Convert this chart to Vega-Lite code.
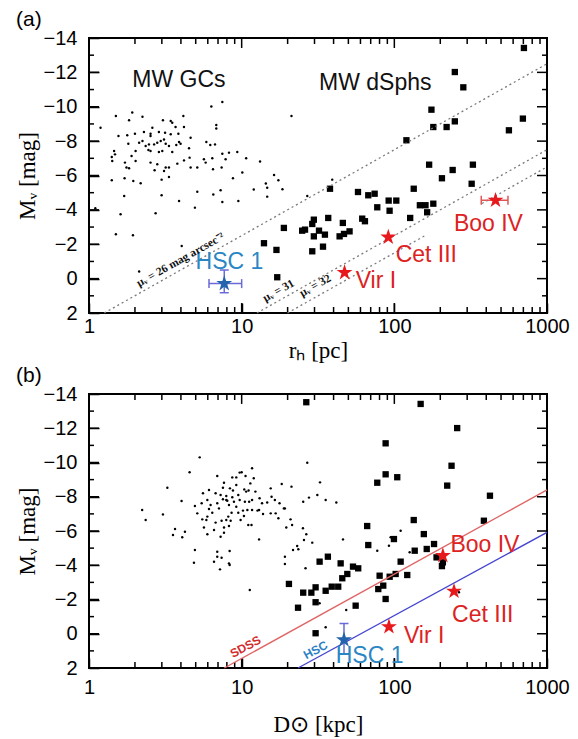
{
"$schema":"https://vega.github.io/schema/vega-lite/v6.json",
"background":"white",
"padding":{"left":15,"top":8,"right":0,"bottom":0},
"spacing":1,
"config":{
 "view":{"stroke":"black","strokeWidth":2},
 "axis":{"domain":false,"grid":false,"ticks":true,"tickColor":"black","tickWidth":1.5,"labelColor":"black","labelFont":"Liberation Sans","labelFontSize":20,"titleColor":"black","titleFont":"Liberation Serif","titleFontSize":23,"titleFontWeight":"normal","labelOverlap":false,"labelFlush":false},
 "title":{"font":"Liberation Sans","fontSize":21,"fontWeight":"normal","color":"black","anchor":"start","frame":"bounds","offset":-2}
},
"datasets":{
 "xmaj":[{"v":1},{"v":10},{"v":100},{"v":1000}],
 "xmin":[{"v":2},{"v":3},{"v":4},{"v":5},{"v":6},{"v":7},{"v":8},{"v":9},{"v":20},{"v":30},{"v":40},{"v":50},{"v":60},{"v":70},{"v":80},{"v":90},{"v":200},{"v":300},{"v":400},{"v":500},{"v":600},{"v":700},{"v":800},{"v":900}],
 "ymaj":[{"v":-14},{"v":-12},{"v":-10},{"v":-8},{"v":-6},{"v":-4},{"v":-2},{"v":0},{"v":2}],
 "ymin":[{"v":-13},{"v":-11},{"v":-9},{"v":-7},{"v":-5},{"v":-3},{"v":-1},{"v":1}],
 "gc_a":[{"x":1.19,"m":-8.78},{"x":1.5,"m":-9.46},{"x":1.92,"m":-9.66},{"x":2.24,"m":-9.42},{"x":1.83,"m":-9.21},{"x":7.47,"m":-10.28},{"x":6.33,"m":-10.01},{"x":4.15,"m":-9.46},{"x":3.43,"m":-9.17},{"x":3.51,"m":-9.07},{"x":3.05,"m":-9.21},{"x":2.6,"m":-8.78},{"x":3.69,"m":-8.82},{"x":4.19,"m":-8.82},{"x":6.82,"m":-8.94},{"x":6.82,"m":-8.73},{"x":21.2,"m":-9.46},{"x":1.56,"m":-8.3},{"x":1.78,"m":-8.34},{"x":1.81,"m":-7.85},{"x":2.0,"m":-8.43},{"x":2.29,"m":-8.53},{"x":2.53,"m":-8.43},{"x":2.53,"m":-8.3},{"x":2.87,"m":-8.53},{"x":3.15,"m":-8.49},{"x":3.43,"m":-8.4},{"x":3.85,"m":-8.43},{"x":4.63,"m":-8.2},{"x":5.87,"m":-7.95},{"x":6.69,"m":-7.81},{"x":6.23,"m":-7.78},{"x":3.89,"m":-7.95},{"x":3.98,"m":-7.85},{"x":4.52,"m":-7.58},{"x":2.13,"m":-7.91},{"x":2.24,"m":-8.01},{"x":2.35,"m":-7.72},{"x":2.47,"m":-7.81},{"x":2.45,"m":-7.48},{"x":2.53,"m":-7.43},{"x":2.67,"m":-7.81},{"x":2.8,"m":-7.91},{"x":2.95,"m":-8.01},{"x":3.1,"m":-8.1},{"x":3.18,"m":-7.85},{"x":3.34,"m":-7.72},{"x":3.51,"m":-7.37},{"x":3.73,"m":-7.78},{"x":2.87,"m":-7.37},{"x":3.02,"m":-7.43},{"x":2.02,"m":-7.43},{"x":1.9,"m":-7.14},{"x":1.46,"m":-7.43},{"x":1.48,"m":-7.23},{"x":1.41,"m":-7.08},{"x":1.42,"m":-6.84},{"x":1.72,"m":-6.75},{"x":2.02,"m":-6.84},{"x":2.53,"m":-6.75},{"x":2.8,"m":-6.65},{"x":3.18,"m":-6.46},{"x":3.1,"m":-6.26},{"x":3.34,"m":-6.46},{"x":2.69,"m":-6.3},{"x":1.76,"m":-6.46},{"x":1.83,"m":-6.42},{"x":3.79,"m":-6.69},{"x":4.19,"m":-6.88},{"x":4.56,"m":-7.04},{"x":4.63,"m":-6.46},{"x":5.12,"m":-6.46},{"x":5.66,"m":-6.94},{"x":5.81,"m":-6.75},{"x":6.42,"m":-7.0},{"x":6.49,"m":-6.36},{"x":7.39,"m":-6.46},{"x":7.47,"m":-7.27},{"x":8.26,"m":-7.33},{"x":9.36,"m":-7.37},{"x":7.85,"m":-6.94},{"x":10.7,"m":-7.0},{"x":13.2,"m":-6.81},{"x":10.1,"m":-6.17},{"x":8.77,"m":-5.84},{"x":1.71,"m":-5.84},{"x":1.41,"m":-5.72},{"x":1.95,"m":-5.68},{"x":2.18,"m":-5.55},{"x":2.99,"m":-5.76},{"x":3.34,"m":-5.91},{"x":12.0,"m":-5.18},{"x":14.4,"m":-5.53},{"x":14.7,"m":-5.29},{"x":16.3,"m":-6.03},{"x":17.4,"m":-5.72},{"x":18.5,"m":-5.2},{"x":5.12,"m":-5.06},{"x":6.52,"m":-4.9},{"x":7.28,"m":-5.14},{"x":1.7,"m":-4.81},{"x":2.99,"m":-4.85},{"x":3.89,"m":-4.52},{"x":7.47,"m":-4.46},{"x":9.51,"m":-4.52},{"x":14.7,"m":-4.77},{"x":26.9,"m":-4.81},{"x":4.94,"m":-4.13},{"x":1.1,"m":-4.09},{"x":1.61,"m":-3.74},{"x":2.73,"m":-3.8},{"x":1.5,"m":-2.58},{"x":1.94,"m":-2.52},{"x":4.05,"m":-1.9},{"x":2.13,"m":-0.41},{"x":39.2,"m":-5.76}],
 "dsph_a":[{"x":706,"m":-13.42},{"x":249,"m":-12.02},{"x":283,"m":-11.13},{"x":175,"m":-9.83},{"x":180,"m":-8.82},{"x":220,"m":-8.82},{"x":249,"m":-9.15},{"x":120,"m":-8.05},{"x":695,"m":-9.31},{"x":563,"m":-8.63},{"x":169,"m":-6.63},{"x":327,"m":-6.63},{"x":241,"m":-6.32},{"x":205,"m":-5.84},{"x":321,"m":-5.52},{"x":37.9,"m":-5.23},{"x":57.8,"m":-5.04},{"x":67.5,"m":-4.85},{"x":74.3,"m":-4.94},{"x":91.8,"m":-4.54},{"x":103,"m":-4.54},{"x":134,"m":-5.23},{"x":77.3,"m":-4.15},{"x":93.1,"m":-3.95},{"x":147,"m":-4.27},{"x":160,"m":-4.27},{"x":180,"m":-4.36},{"x":164,"m":-3.86},{"x":127,"m":-3.53},{"x":61.6,"m":-3.49},{"x":64.2,"m":-3.34},{"x":18.9,"m":-2.95},{"x":36.9,"m":-3.53},{"x":29.7,"m":-3.43},{"x":24.9,"m":-2.79},{"x":26.0,"m":-2.85},{"x":29.0,"m":-3.18},{"x":32.1,"m":-2.79},{"x":29.7,"m":-2.46},{"x":35.1,"m":-2.56},{"x":46.0,"m":-3.24},{"x":46.8,"m":-2.6},{"x":50.9,"m":-2.75},{"x":43.8,"m":-2.46},{"x":29.0,"m":-1.59},{"x":34.1,"m":-1.86},{"x":16.9,"m":-1.67},{"x":14.0,"m":-2.06},{"x":17.1,"m":-0.08}],
 "lines_a":[{"id":"mu26","x":1.259,"m":2},{"id":"mu26","x":1000,"m":-12.5},{"id":"mu31","x":12.59,"m":2},{"id":"mu31","x":1000,"m":-7.5},{"id":"mu32a","x":19.95,"m":2},{"id":"mu32a","x":161,"m":-2.53},{"id":"mu32b","x":375,"m":-4.37},{"id":"mu32b","x":1000,"m":-6.5}],
 "err_a":[{"x":6.11,"x2":10.0,"m":0.29,"m2":0.29,"k":"err_hsc"},{"x":7.69,"x2":7.69,"m":-0.5,"m2":0.82,"k":"err_hsc"},{"x":371,"x2":555,"m":-4.56,"m2":-4.56,"k":"err_new"}],
 "capv_a":[{"x":6.11,"m":0.29,"k":"err_hsc"},{"x":10.0,"m":0.29,"k":"err_hsc"},{"x":371,"m":-4.56,"k":"err_new"},{"x":555,"m":-4.56,"k":"err_new"}],
 "caph_a":[{"x":7.69,"m":-0.5,"k":"err_hsc"},{"x":7.69,"m":0.82,"k":"err_hsc"}],
 "stars_a":[{"x":47.2,"m":-0.35,"k":"star_new"},{"x":91.3,"m":-2.41,"k":"star_new"},{"x":460,"m":-4.56,"k":"star_new"},{"x":7.69,"m":0.29,"k":"star_hsc"}],
 "labels_a":[{"x":4.99,"m":-0.99,"t":"HSC 1","k":"lbl_hsc"},{"x":55.8,"m":0.15,"t":"Vir I","k":"lbl_new"},{"x":102,"m":-1.4,"t":"Cet III","k":"lbl_new"},{"x":245.6,"m":-3.2,"t":"Boo IV","k":"lbl_new"},{"x":1.92,"m":-11.56,"t":"MW GCs","k":"lbl_black"},{"x":32.1,"m":-11.4,"t":"MW dSphs","k":"lbl_black"}],
 "mu_a":[{"x":3.99,"m":-1.07,"t":"μᵥ = 26 mag arcsec⁻²"},{"x":17.5,"m":0.72,"t":"μᵥ = 31"},{"x":30.5,"m":0.43,"t":"μᵥ = 32"}],
 "gc_b":[{"x":5.31,"m":-10.3},{"x":4.56,"m":-9.43},{"x":3.26,"m":-8.53},{"x":4.04,"m":-7.75},{"x":3.05,"m":-6.97},{"x":3.66,"m":-6.12},{"x":3.55,"m":-5.77},{"x":4.08,"m":-5.63},{"x":4.25,"m":-5.96},{"x":4.94,"m":-4.89},{"x":4.87,"m":-4.15},{"x":6.92,"m":-9.21},{"x":7.66,"m":-8.82},{"x":8.68,"m":-9.13},{"x":9.22,"m":-9.13},{"x":9.7,"m":-9.41},{"x":10.0,"m":-9.43},{"x":10.6,"m":-9.21},{"x":11.7,"m":-9.66},{"x":12.0,"m":-9.08},{"x":11.4,"m":-8.78},{"x":10.4,"m":-8.43},{"x":10.7,"m":-8.3},{"x":11.1,"m":-8.36},{"x":12.3,"m":-8.3},{"x":9.22,"m":-8.69},{"x":8.38,"m":-8.49},{"x":7.54,"m":-8.53},{"x":6.75,"m":-8.2},{"x":6.11,"m":-8.39},{"x":5.58,"m":-8.2},{"x":4.94,"m":-7.46},{"x":5.47,"m":-7.62},{"x":5.96,"m":-7.81},{"x":6.26,"m":-7.52},{"x":6.11,"m":-7.29},{"x":6.42,"m":-7.07},{"x":6.92,"m":-7.62},{"x":7.1,"m":-7.32},{"x":7.54,"m":-7.85},{"x":7.93,"m":-7.81},{"x":8.26,"m":-7.52},{"x":7.93,"m":-8.04},{"x":8.68,"m":-7.97},{"x":9.5,"m":-8.1},{"x":9.7,"m":-7.81},{"x":10.5,"m":-7.71},{"x":11.2,"m":-7.71},{"x":11.7,"m":-7.81},{"x":13.1,"m":-7.91},{"x":13.6,"m":-7.62},{"x":14.7,"m":-7.66},{"x":15.7,"m":-8.0},{"x":16.5,"m":-7.81},{"x":17.7,"m":-7.62},{"x":18.9,"m":-7.32},{"x":15.5,"m":-7.03},{"x":16.7,"m":-7.03},{"x":17.4,"m":-6.74},{"x":13.8,"m":-6.99},{"x":12.7,"m":-7.19},{"x":11.7,"m":-7.23},{"x":10.9,"m":-7.23},{"x":10.2,"m":-7.19},{"x":9.5,"m":-7.07},{"x":9.22,"m":-7.42},{"x":8.59,"m":-7.07},{"x":8.17,"m":-6.84},{"x":7.93,"m":-6.64},{"x":8.47,"m":-6.6},{"x":8.26,"m":-6.29},{"x":7.66,"m":-6.21},{"x":7.39,"m":-6.6},{"x":6.75,"m":-6.49},{"x":5.96,"m":-6.84},{"x":5.87,"m":-6.64},{"x":5.52,"m":-6.68},{"x":5.12,"m":-7.03},{"x":5.66,"m":-6.21},{"x":9.84,"m":-6.64},{"x":10.35,"m":-6.88},{"x":11.05,"m":-6.35},{"x":11.6,"m":-6.35},{"x":7.66,"m":-5.9},{"x":6.59,"m":-6.06},{"x":5.96,"m":-5.81},{"x":7.28,"m":-5.67},{"x":13.0,"m":-5.51},{"x":13.0,"m":-7.23},{"x":6.92,"m":-4.79},{"x":8.34,"m":-4.83},{"x":6.92,"m":-4.5},{"x":7.39,"m":-4.44},{"x":6.59,"m":-4.21},{"x":8.26,"m":-4.11},{"x":8.34,"m":-4.01},{"x":7.21,"m":-3.76},{"x":8.05,"m":-7.77},{"x":8.77,"m":-8.36},{"x":8.9,"m":-7.71},{"x":7.28,"m":-8.1},{"x":15.5,"m":-8.49},{"x":18.3,"m":-8.74},{"x":21.2,"m":-8.59},{"x":26.9,"m":-9.99},{"x":32.6,"m":-8.84},{"x":31.3,"m":-8.1},{"x":27.6,"m":-7.95},{"x":35.5,"m":-7.81},{"x":41.7,"m":-7.67},{"x":25.3,"m":-7.71},{"x":19.2,"m":-7.32},{"x":20.9,"m":-6.68},{"x":21.4,"m":-6.35},{"x":19.6,"m":-6.21},{"x":25.2,"m":-6.16},{"x":26.5,"m":-5.81},{"x":25.6,"m":-5.47},{"x":29.0,"m":-5.32},{"x":23.1,"m":-5.12},{"x":23.5,"m":-4.93},{"x":21.7,"m":-4.89},{"x":19.2,"m":-4.5},{"x":19.2,"m":-4.07},{"x":26.2,"m":-3.82},{"x":46.1,"m":-5.51},{"x":11.3,"m":-2.56},{"x":2.23,"m":-7.23},{"x":2.35,"m":-6.64},{"x":110,"m":-6.02},{"x":126,"m":-4.76},{"x":77.3,"m":-4.85},{"x":92.2,"m":-5.14},{"x":94.6,"m":-5.63},{"x":48.4,"m":-1.39},{"x":35.5,"m":-0.38},{"x":32.4,"m":-1.78},{"x":265,"m":-2.42}],
 "dsph_b":[{"x":20.4,"m":-2.91},{"x":23.4,"m":-1.52},{"x":25.3,"m":-2.4},{"x":28.6,"m":-2.4},{"x":30.5,"m":-1.84},{"x":30.5,"m":-2.71},{"x":35.5,"m":-2.51},{"x":38.9,"m":-2.75},{"x":42.9,"m":-2.75},{"x":32.4,"m":-4.21},{"x":36.7,"m":-4.5},{"x":44.5,"m":-4.11},{"x":53.6,"m":-3.92},{"x":58.0,"m":-3.82},{"x":49.2,"m":-3.49},{"x":45.6,"m":-3.24},{"x":55.8,"m":-1.64},{"x":30.5,"m":-0.03},{"x":66.4,"m":-6.29},{"x":67.5,"m":-5.18},{"x":77.3,"m":-8.82},{"x":87.7,"m":-9.31},{"x":87.7,"m":-11.12},{"x":104.5,"m":-9.14},{"x":26.5,"m":-13.52},{"x":148.7,"m":-13.42},{"x":258,"m":-12.01},{"x":237,"m":-9.81},{"x":222,"m":-8.65},{"x":423,"m":-8.06},{"x":386,"m":-6.6},{"x":134,"m":-6.64},{"x":156,"m":-5.82},{"x":182,"m":-5.24},{"x":163,"m":-4.95},{"x":136,"m":-4.85},{"x":189,"m":-4.46},{"x":208,"m":-4.17},{"x":205,"m":-3.95},{"x":99.4,"m":-5.53},{"x":110,"m":-4.21},{"x":121.5,"m":-3.43},{"x":102,"m":-3.49},{"x":93.2,"m":-3.33},{"x":80.1,"m":-3.39},{"x":84.6,"m":-2.81},{"x":78.5,"m":-2.61},{"x":87.7,"m":-2.03}],
 "lines_b":[{"id":"sdss","x":7.7,"m":2,"k":"line_sdss"},{"id":"sdss","x":1000,"m":-8.4,"k":"line_sdss"},{"id":"hsc","x":23.4,"m":2,"k":"line_hsc"},{"id":"hsc","x":1000,"m":-5.92,"k":"line_hsc"}],
 "err_b":[{"x":46.8,"x2":46.8,"m":-0.6,"m2":1.2,"k":"err_hsc"}],
 "caph_b":[{"x":46.8,"m":-0.6,"k":"err_hsc"}],
 "stars_b":[{"x":208,"m":-4.56,"k":"star_new"},{"x":246,"m":-2.48,"k":"star_new"},{"x":92.2,"m":-0.41,"k":"star_new"},{"x":46.8,"m":0.36,"k":"star_hsc"}],
 "labels_b":[{"x":233,"m":-5.2,"t":"Boo IV","k":"lbl_new"},{"x":239,"m":-1.11,"t":"Cet III","k":"lbl_new"},{"x":115.6,"m":0.11,"t":"Vir I","k":"lbl_new"},{"x":41.3,"m":1.32,"t":"HSC 1","k":"lbl_hsc"}],
 "linelbl_b":[{"x":10.6,"m":0.76,"t":"SDSS","k":"lbl_sdss"},{"x":30.5,"m":0.95,"t":"HSC","k":"lbl_hsc2"}]
},
"vconcat":[
 {
  "title":{"text":"(a)"},
  "width":458,"height":275,
  "resolve":{"axis":{"x":"independent","y":"independent"}},
  "layer":[
   {"data":{"name":"gc_a"},"mark":{"type":"circle","size":6,"color":"black","opacity":1},
    "encoding":{
     "x":{"field":"x","type":"quantitative","scale":{"type":"log","domain":[1,1000],"nice":false},
      "axis":{"orient":"bottom","values":[1,10,100,1000],"labelExpr":"format(datum.value,'d')","tickSize":10,"offset":-10,"labelPadding":3,"title":"rₕ [pc]","titlePadding":3}},
     "y":{"field":"m","type":"quantitative","scale":{"domain":[-14,2],"reverse":true,"nice":false,"zero":false},
      "axis":{"orient":"left","values":[-14,-12,-10,-8,-6,-4,-2,0,2],"labelExpr":"format(datum.value,'d')","tickSize":10,"offset":-10,"labelPadding":12,"title":"Mᵥ [mag]","titlePadding":4}}}},
   {"data":{"name":"xmaj"},"mark":{"type":"rule","strokeWidth":1.5,"color":"black","opacity":1},
    "encoding":{"x":{"field":"v","type":"quantitative","axis":null},"y":{"datum":2,"type":"quantitative","axis":null},"y2":{"datum":1.42}}},
   {"data":{"name":"xmaj"},"mark":{"type":"rule","strokeWidth":1.5,"color":"black","opacity":1},
    "encoding":{"x":{"field":"v","type":"quantitative","axis":null},"y":{"datum":-14,"type":"quantitative","axis":null},"y2":{"datum":-13.42}}},
   {"data":{"name":"xmin"},"mark":{"type":"rule","strokeWidth":1.5,"color":"black","opacity":1},
    "encoding":{"x":{"field":"v","type":"quantitative","axis":null},"y":{"datum":2,"type":"quantitative","axis":null},"y2":{"datum":1.65}}},
   {"data":{"name":"xmin"},"mark":{"type":"rule","strokeWidth":1.5,"color":"black","opacity":1},
    "encoding":{"x":{"field":"v","type":"quantitative","axis":null},"y":{"datum":-14,"type":"quantitative","axis":null},"y2":{"datum":-13.65}}},
   {"data":{"name":"ymaj"},"mark":{"type":"rule","strokeWidth":1.5,"color":"black","opacity":1},
    "encoding":{"y":{"field":"v","type":"quantitative","axis":null},"x":{"datum":1,"type":"quantitative","axis":null},"x2":{"datum":1.163}}},
   {"data":{"name":"ymaj"},"mark":{"type":"rule","strokeWidth":1.5,"color":"black","opacity":1},
    "encoding":{"y":{"field":"v","type":"quantitative","axis":null},"x":{"datum":1000,"type":"quantitative","axis":null},"x2":{"datum":860}}},
   {"data":{"name":"ymin"},"mark":{"type":"rule","strokeWidth":1.5,"color":"black","opacity":1},
    "encoding":{"y":{"field":"v","type":"quantitative","axis":null},"x":{"datum":1,"type":"quantitative","axis":null},"x2":{"datum":1.078}}},
   {"data":{"name":"ymin"},"mark":{"type":"rule","strokeWidth":1.5,"color":"black","opacity":1},
    "encoding":{"y":{"field":"v","type":"quantitative","axis":null},"x":{"datum":1000,"type":"quantitative","axis":null},"x2":{"datum":927.6}}},
   {"data":{"name":"dsph_a"},"mark":{"type":"square","size":40,"color":"black","opacity":1},
    "encoding":{"x":{"field":"x","type":"quantitative","axis":null},"y":{"field":"m","type":"quantitative","axis":null}}},
   {"data":{"name":"lines_a"},"mark":{"type":"line","color":"#7a7a7a","strokeWidth":1.3,"strokeDash":[2,3]},
    "encoding":{"x":{"field":"x","type":"quantitative","axis":null},"y":{"field":"m","type":"quantitative","axis":null},"detail":{"field":"id"}}},
   {"data":{"name":"err_a"},"mark":{"type":"rule","strokeWidth":1.5},
    "encoding":{"x":{"field":"x","type":"quantitative","axis":null},"x2":{"field":"x2"},"y":{"field":"m","type":"quantitative","axis":null},"y2":{"field":"m2"},
     "color":{"field":"k","type":"nominal","legend":null,"scale":{"domain":["star_new","star_hsc","err_new","err_hsc","lbl_new","lbl_hsc","lbl_black","line_sdss","line_hsc","lbl_sdss","lbl_hsc2"],"range":["#e8191c","#2464ad","#e05555","#6a6ad8","#dd2222","#2b86c4","#111111","#e06666","#4545d0","#d42a2a","#2b7fc4"]}}}},
   {"data":{"name":"capv_a"},"mark":{"type":"tick","orient":"vertical","size":9,"thickness":1.5,"opacity":1},
    "encoding":{"x":{"field":"x","type":"quantitative","axis":null},"y":{"field":"m","type":"quantitative","axis":null},"color":{"field":"k","type":"nominal","legend":null}}},
   {"data":{"name":"caph_a"},"mark":{"type":"tick","orient":"horizontal","size":9,"thickness":1.5,"opacity":1},
    "encoding":{"x":{"field":"x","type":"quantitative","axis":null},"y":{"field":"m","type":"quantitative","axis":null},"color":{"field":"k","type":"nominal","legend":null}}},
   {"data":{"name":"stars_a"},"mark":{"type":"point","filled":true,"opacity":1,"size":280,"shape":"M0,-1L0.2245,-0.309L0.9511,-0.309L0.3633,0.118L0.5878,0.809L0,0.382L-0.5878,0.809L-0.3633,0.118L-0.9511,-0.309L-0.2245,-0.309Z"},
    "encoding":{"x":{"field":"x","type":"quantitative","axis":null},"y":{"field":"m","type":"quantitative","axis":null},"color":{"field":"k","type":"nominal","legend":null}}},
   {"data":{"name":"labels_a"},"mark":{"type":"text","align":"left","baseline":"middle","font":"Liberation Sans","fontSize":23},
    "encoding":{"x":{"field":"x","type":"quantitative","axis":null},"y":{"field":"m","type":"quantitative","axis":null},"text":{"field":"t"},"color":{"field":"k","type":"nominal","legend":null}}},
   {"data":{"name":"mu_a"},"mark":{"type":"text","align":"center","baseline":"middle","font":"Liberation Serif","fontWeight":"bold","fontSize":11.5,"angle":-29.4,"color":"#111111"},
    "encoding":{"x":{"field":"x","type":"quantitative","axis":null},"y":{"field":"m","type":"quantitative","axis":null},"text":{"field":"t"}}}
  ]
 },
 {
  "title":{"text":"(b)"},
  "width":458,"height":274,
  "resolve":{"axis":{"x":"independent","y":"independent"}},
  "layer":[
   {"data":{"name":"gc_b"},"mark":{"type":"circle","size":6,"color":"black","opacity":1},
    "encoding":{
     "x":{"field":"x","type":"quantitative","scale":{"type":"log","domain":[1,1000],"nice":false},
      "axis":{"orient":"bottom","values":[1,10,100,1000],"labelExpr":"format(datum.value,'d')","tickSize":10,"offset":-10,"labelPadding":9,"title":"D⊙ [kpc]","titlePadding":16}},
     "y":{"field":"m","type":"quantitative","scale":{"domain":[-14,2],"reverse":true,"nice":false,"zero":false},
      "axis":{"orient":"left","values":[-14,-12,-10,-8,-6,-4,-2,0,2],"labelExpr":"format(datum.value,'d')","tickSize":10,"offset":-10,"labelPadding":12,"title":"Mᵥ [mag]","titlePadding":4}}}},
   {"data":{"name":"xmaj"},"mark":{"type":"rule","strokeWidth":1.5,"color":"black","opacity":1},
    "encoding":{"x":{"field":"v","type":"quantitative","axis":null},"y":{"datum":2,"type":"quantitative","axis":null},"y2":{"datum":1.42}}},
   {"data":{"name":"xmaj"},"mark":{"type":"rule","strokeWidth":1.5,"color":"black","opacity":1},
    "encoding":{"x":{"field":"v","type":"quantitative","axis":null},"y":{"datum":-14,"type":"quantitative","axis":null},"y2":{"datum":-13.42}}},
   {"data":{"name":"xmin"},"mark":{"type":"rule","strokeWidth":1.5,"color":"black","opacity":1},
    "encoding":{"x":{"field":"v","type":"quantitative","axis":null},"y":{"datum":2,"type":"quantitative","axis":null},"y2":{"datum":1.65}}},
   {"data":{"name":"xmin"},"mark":{"type":"rule","strokeWidth":1.5,"color":"black","opacity":1},
    "encoding":{"x":{"field":"v","type":"quantitative","axis":null},"y":{"datum":-14,"type":"quantitative","axis":null},"y2":{"datum":-13.65}}},
   {"data":{"name":"ymaj"},"mark":{"type":"rule","strokeWidth":1.5,"color":"black","opacity":1},
    "encoding":{"y":{"field":"v","type":"quantitative","axis":null},"x":{"datum":1,"type":"quantitative","axis":null},"x2":{"datum":1.163}}},
   {"data":{"name":"ymaj"},"mark":{"type":"rule","strokeWidth":1.5,"color":"black","opacity":1},
    "encoding":{"y":{"field":"v","type":"quantitative","axis":null},"x":{"datum":1000,"type":"quantitative","axis":null},"x2":{"datum":860}}},
   {"data":{"name":"ymin"},"mark":{"type":"rule","strokeWidth":1.5,"color":"black","opacity":1},
    "encoding":{"y":{"field":"v","type":"quantitative","axis":null},"x":{"datum":1,"type":"quantitative","axis":null},"x2":{"datum":1.078}}},
   {"data":{"name":"ymin"},"mark":{"type":"rule","strokeWidth":1.5,"color":"black","opacity":1},
    "encoding":{"y":{"field":"v","type":"quantitative","axis":null},"x":{"datum":1000,"type":"quantitative","axis":null},"x2":{"datum":927.6}}},
   {"data":{"name":"dsph_b"},"mark":{"type":"square","size":40,"color":"black","opacity":1},
    "encoding":{"x":{"field":"x","type":"quantitative","axis":null},"y":{"field":"m","type":"quantitative","axis":null}}},
   {"data":{"name":"lines_b"},"mark":{"type":"line","strokeWidth":1.4},
    "encoding":{"x":{"field":"x","type":"quantitative","axis":null},"y":{"field":"m","type":"quantitative","axis":null},"detail":{"field":"id"},
     "color":{"field":"k","type":"nominal","legend":null,"scale":{"domain":["star_new","star_hsc","err_new","err_hsc","lbl_new","lbl_hsc","lbl_black","line_sdss","line_hsc","lbl_sdss","lbl_hsc2"],"range":["#e8191c","#2464ad","#e05555","#6a6ad8","#dd2222","#2b86c4","#111111","#e06666","#4545d0","#d42a2a","#2b7fc4"]}}}},
   {"data":{"name":"err_b"},"mark":{"type":"rule","strokeWidth":1.5},
    "encoding":{"x":{"field":"x","type":"quantitative","axis":null},"x2":{"field":"x2"},"y":{"field":"m","type":"quantitative","axis":null},"y2":{"field":"m2"},"color":{"field":"k","type":"nominal","legend":null}}},
   {"data":{"name":"caph_b"},"mark":{"type":"tick","orient":"horizontal","size":9,"thickness":1.5,"opacity":1},
    "encoding":{"x":{"field":"x","type":"quantitative","axis":null},"y":{"field":"m","type":"quantitative","axis":null},"color":{"field":"k","type":"nominal","legend":null}}},
   {"data":{"name":"stars_b"},"mark":{"type":"point","filled":true,"opacity":1,"size":280,"shape":"M0,-1L0.2245,-0.309L0.9511,-0.309L0.3633,0.118L0.5878,0.809L0,0.382L-0.5878,0.809L-0.3633,0.118L-0.9511,-0.309L-0.2245,-0.309Z"},
    "encoding":{"x":{"field":"x","type":"quantitative","axis":null},"y":{"field":"m","type":"quantitative","axis":null},"color":{"field":"k","type":"nominal","legend":null}}},
   {"data":{"name":"labels_b"},"mark":{"type":"text","align":"left","baseline":"middle","font":"Liberation Sans","fontSize":23},
    "encoding":{"x":{"field":"x","type":"quantitative","axis":null},"y":{"field":"m","type":"quantitative","axis":null},"text":{"field":"t"},"color":{"field":"k","type":"nominal","legend":null}}},
   {"data":{"name":"linelbl_b"},"mark":{"type":"text","align":"center","baseline":"middle","font":"Liberation Sans","fontWeight":"bold","fontSize":12,"angle":-28.4},
    "encoding":{"x":{"field":"x","type":"quantitative","axis":null},"y":{"field":"m","type":"quantitative","axis":null},"text":{"field":"t"},"color":{"field":"k","type":"nominal","legend":null}}}
  ]
 }
]
}
